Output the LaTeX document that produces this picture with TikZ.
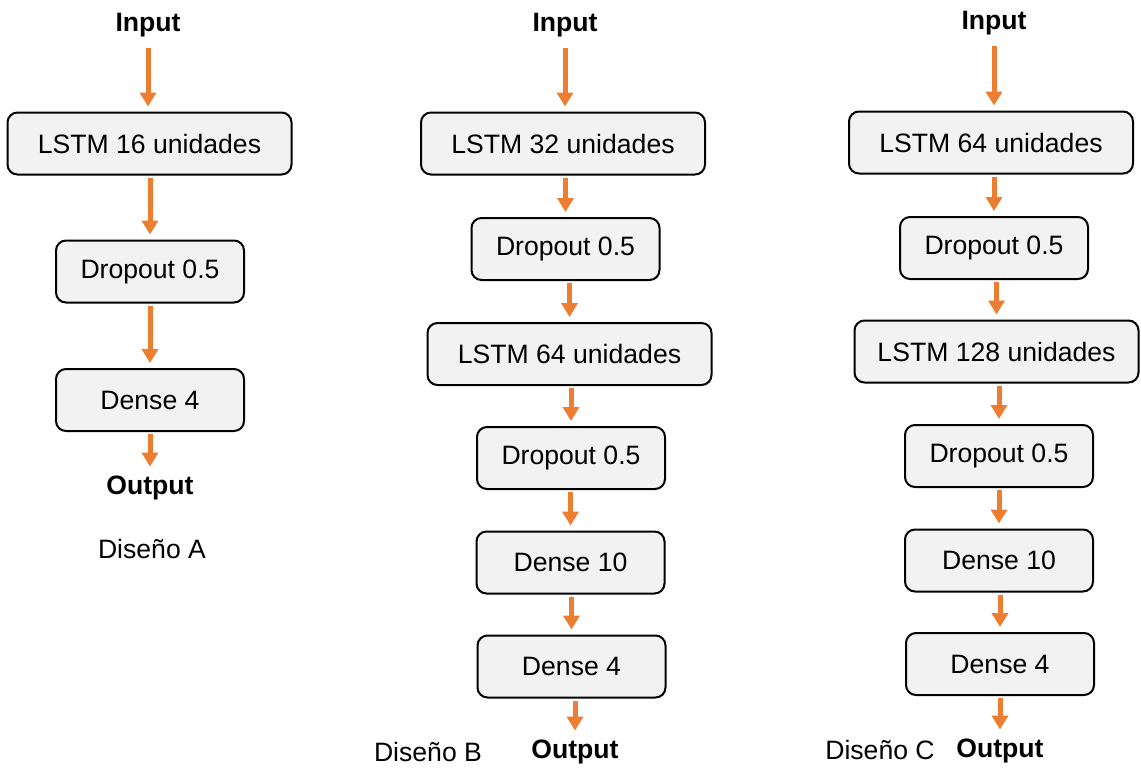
\documentclass[tikz,border=0pt]{standalone}
\usepackage{fontspec}
\setmainfont{Liberation Sans}
\usetikzlibrary{arrows.meta}
\definecolor{arrorange}{HTML}{ED7D31}
\definecolor{boxgray}{HTML}{F2F2F2}
\newcommand{\diagsize}{\fontsize{13.3}{16}\selectfont}
\tikzset{
  layer/.style={draw=black, fill=boxgray, line width=1pt, rounded corners=5pt,
    minimum height=31pt, inner sep=2pt},
  widelayer/.style={layer, minimum width=142pt},
  narrowlayer/.style={layer, minimum width=94pt},
  iolabel/.style={font=\diagsize\bfseries, inner sep=2pt},
  caption/.style={inner sep=2pt},
  flow/.style={draw=arrorange, line width=2.5pt, -{Triangle[width=8pt,length=7pt]},
    shorten >=2.5pt, shorten <=1pt},
  inflow/.style={flow, shorten <=3.5pt}
}
\begin{document}
\begin{tikzpicture}[x=0.5pt, y=-0.5pt, font=\diagsize]
  \useasboundingbox (0,0) rectangle (1141,767);
  % Diseno A
  \node[iolabel] (inA) at (148,25) {Input};
  \node[widelayer] (lstmA) at (149.5,143.5) {LSTM 16 unidades};
  \node[narrowlayer] (dropA) at (150,271.5) {Dropout 0.5};
  \node[narrowlayer] (denseA) at (150,400) {Dense 4};
  \node[iolabel] (outA) at (150,488) {Output};
  \node[caption] (capA) at (152,549) {Diseño A};
  % Diseno B
  \node[iolabel] (inB) at (565,25) {Input};
  \node[widelayer] (lstmBa) at (563,143.5) {LSTM 32 unidades};
  \node[narrowlayer] (dropBa) at (565.5,249) {Dropout 0.5};
  \node[widelayer] (lstmBb) at (569.5,354) {LSTM 64 unidades};
  \node[narrowlayer] (dropBb) at (571,458) {Dropout 0.5};
  \node[narrowlayer] (denseBa) at (570.5,562.5) {Dense 10};
  \node[narrowlayer] (denseBb) at (571.5,666.5) {Dense 4};
  \node[iolabel] (outB) at (575,752) {Output};
  \node[caption] (capB) at (428,752) {Diseño B};
  % Diseno C
  \node[iolabel] (inC) at (994,23) {Input};
  \node[widelayer] (lstmCa) at (991,142.5) {LSTM 64 unidades};
  \node[narrowlayer] (dropCa) at (994,248) {Dropout 0.5};
  \node[widelayer] (lstmCb) at (996.5,351.5) {LSTM 128 unidades};
  \node[narrowlayer] (dropCb) at (999,456) {Dropout 0.5};
  \node[narrowlayer] (denseCa) at (999,560.5) {Dense 10};
  \node[narrowlayer] (denseCb) at (1000,664) {Dense 4};
  \node[iolabel] (outC) at (1000,751) {Output};
  \node[caption] (capC) at (880,750) {Diseño C};
  % arrows
  \foreach \a/\b in {inA/lstmA, inB/lstmBa, inC/lstmCa}
    \draw[inflow] (\a) -- (\a |- \b.north);
  \foreach \a/\b in {lstmA/dropA, dropA/denseA, denseA/outA,
      lstmBa/dropBa, dropBa/lstmBb, lstmBb/dropBb, dropBb/denseBa, denseBa/denseBb, denseBb/outB,
      lstmCa/dropCa, dropCa/lstmCb, lstmCb/dropCb, dropCb/denseCa, denseCa/denseCb, denseCb/outC}
    \draw[flow] (\b |- \a.south) -- (\b.north);
\end{tikzpicture}
\end{document}
